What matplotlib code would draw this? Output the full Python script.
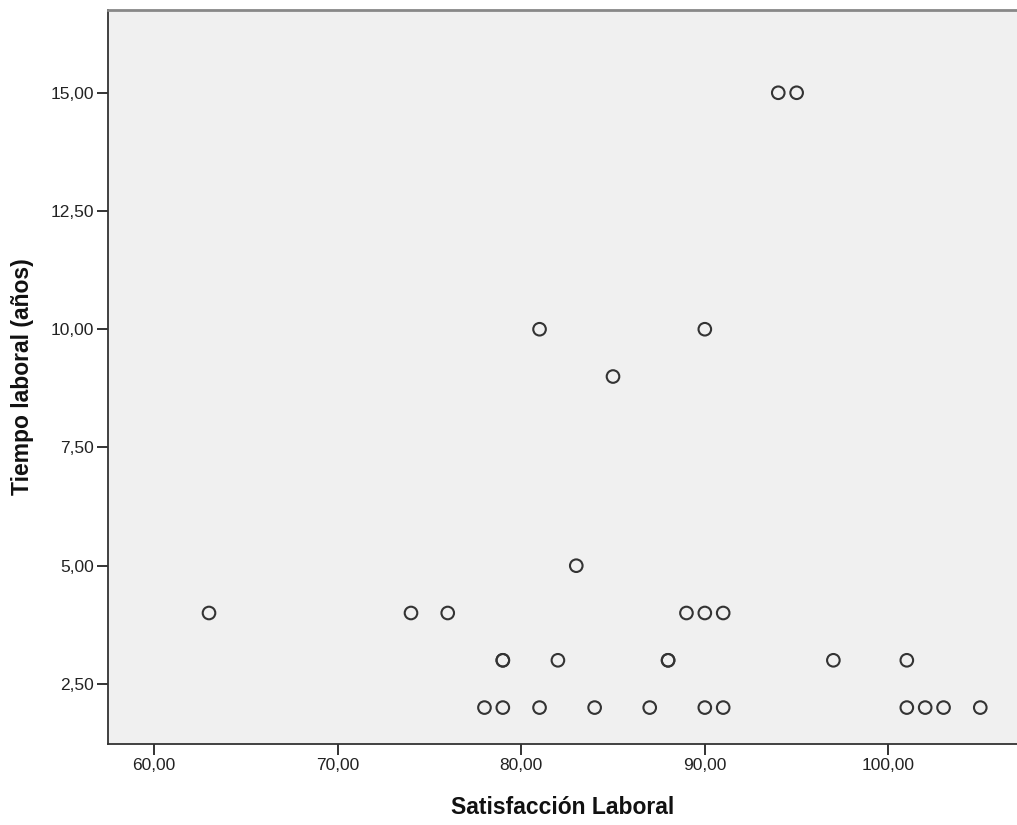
import matplotlib.pyplot as plt
from matplotlib.ticker import FuncFormatter

# Satisfacción laboral vs tiempo laboral (one entry per case)
satisfaccion = [63, 74, 76, 78, 79, 79, 79, 81, 81, 82, 83, 84, 85, 87,
                88, 88, 89, 90, 90, 90, 91, 91, 94, 95, 97, 101, 101,
                102, 103, 105]
tiempo = [4, 4, 4, 2, 2, 3, 3, 2, 10, 3, 5, 2, 9, 2,
          3, 3, 4, 4, 2, 10, 4, 2, 15, 15, 3, 3, 2,
          2, 2, 2]

x_ticks = [60, 70, 80, 90, 100]
y_ticks = [2.5, 5.0, 7.5, 10.0, 12.5, 15.0]

plt.rcParams['font.family'] = ['Liberation Sans', 'DejaVu Sans']

fig = plt.figure(figsize=(10.17, 8.25), dpi=100)
ax = fig.add_axes([108 / 1017, 81 / 825, 1 - 108 / 1017, 734 / 825])
ax.set_facecolor('#f0f0f0')

ax.scatter(satisfaccion, tiempo, s=82, facecolors='none',
           edgecolors='#333333', linewidths=1.5, zorder=3)

ax.set_xlim(57.5, 107)
ax.set_ylim(1.23, 16.75)
ax.set_xticks(x_ticks)
ax.set_yticks(y_ticks)

comma = FuncFormatter(lambda v, pos: f"{v:.2f}".replace('.', ','))
ax.xaxis.set_major_formatter(comma)
ax.yaxis.set_major_formatter(comma)

ax.tick_params(direction='out', length=8, width=1.4, color='#333333',
               labelsize=12.5, labelcolor='#222222', pad=2)

for side in ['left', 'bottom']:
    ax.spines[side].set_color('#333333')
    ax.spines[side].set_linewidth(1.3)
ax.spines['top'].set_color('#888888')
ax.spines['top'].set_linewidth(2)
ax.spines['right'].set_visible(False)

ax.set_xlabel('Satisfacción Laboral', fontsize=16.5, fontweight='bold',
              labelpad=17, color='#111111')
ax.set_ylabel('Tiempo laboral (años)', fontsize=16.5, fontweight='bold',
              labelpad=12, color='#111111')

fig.savefig('out.png', dpi=100)
